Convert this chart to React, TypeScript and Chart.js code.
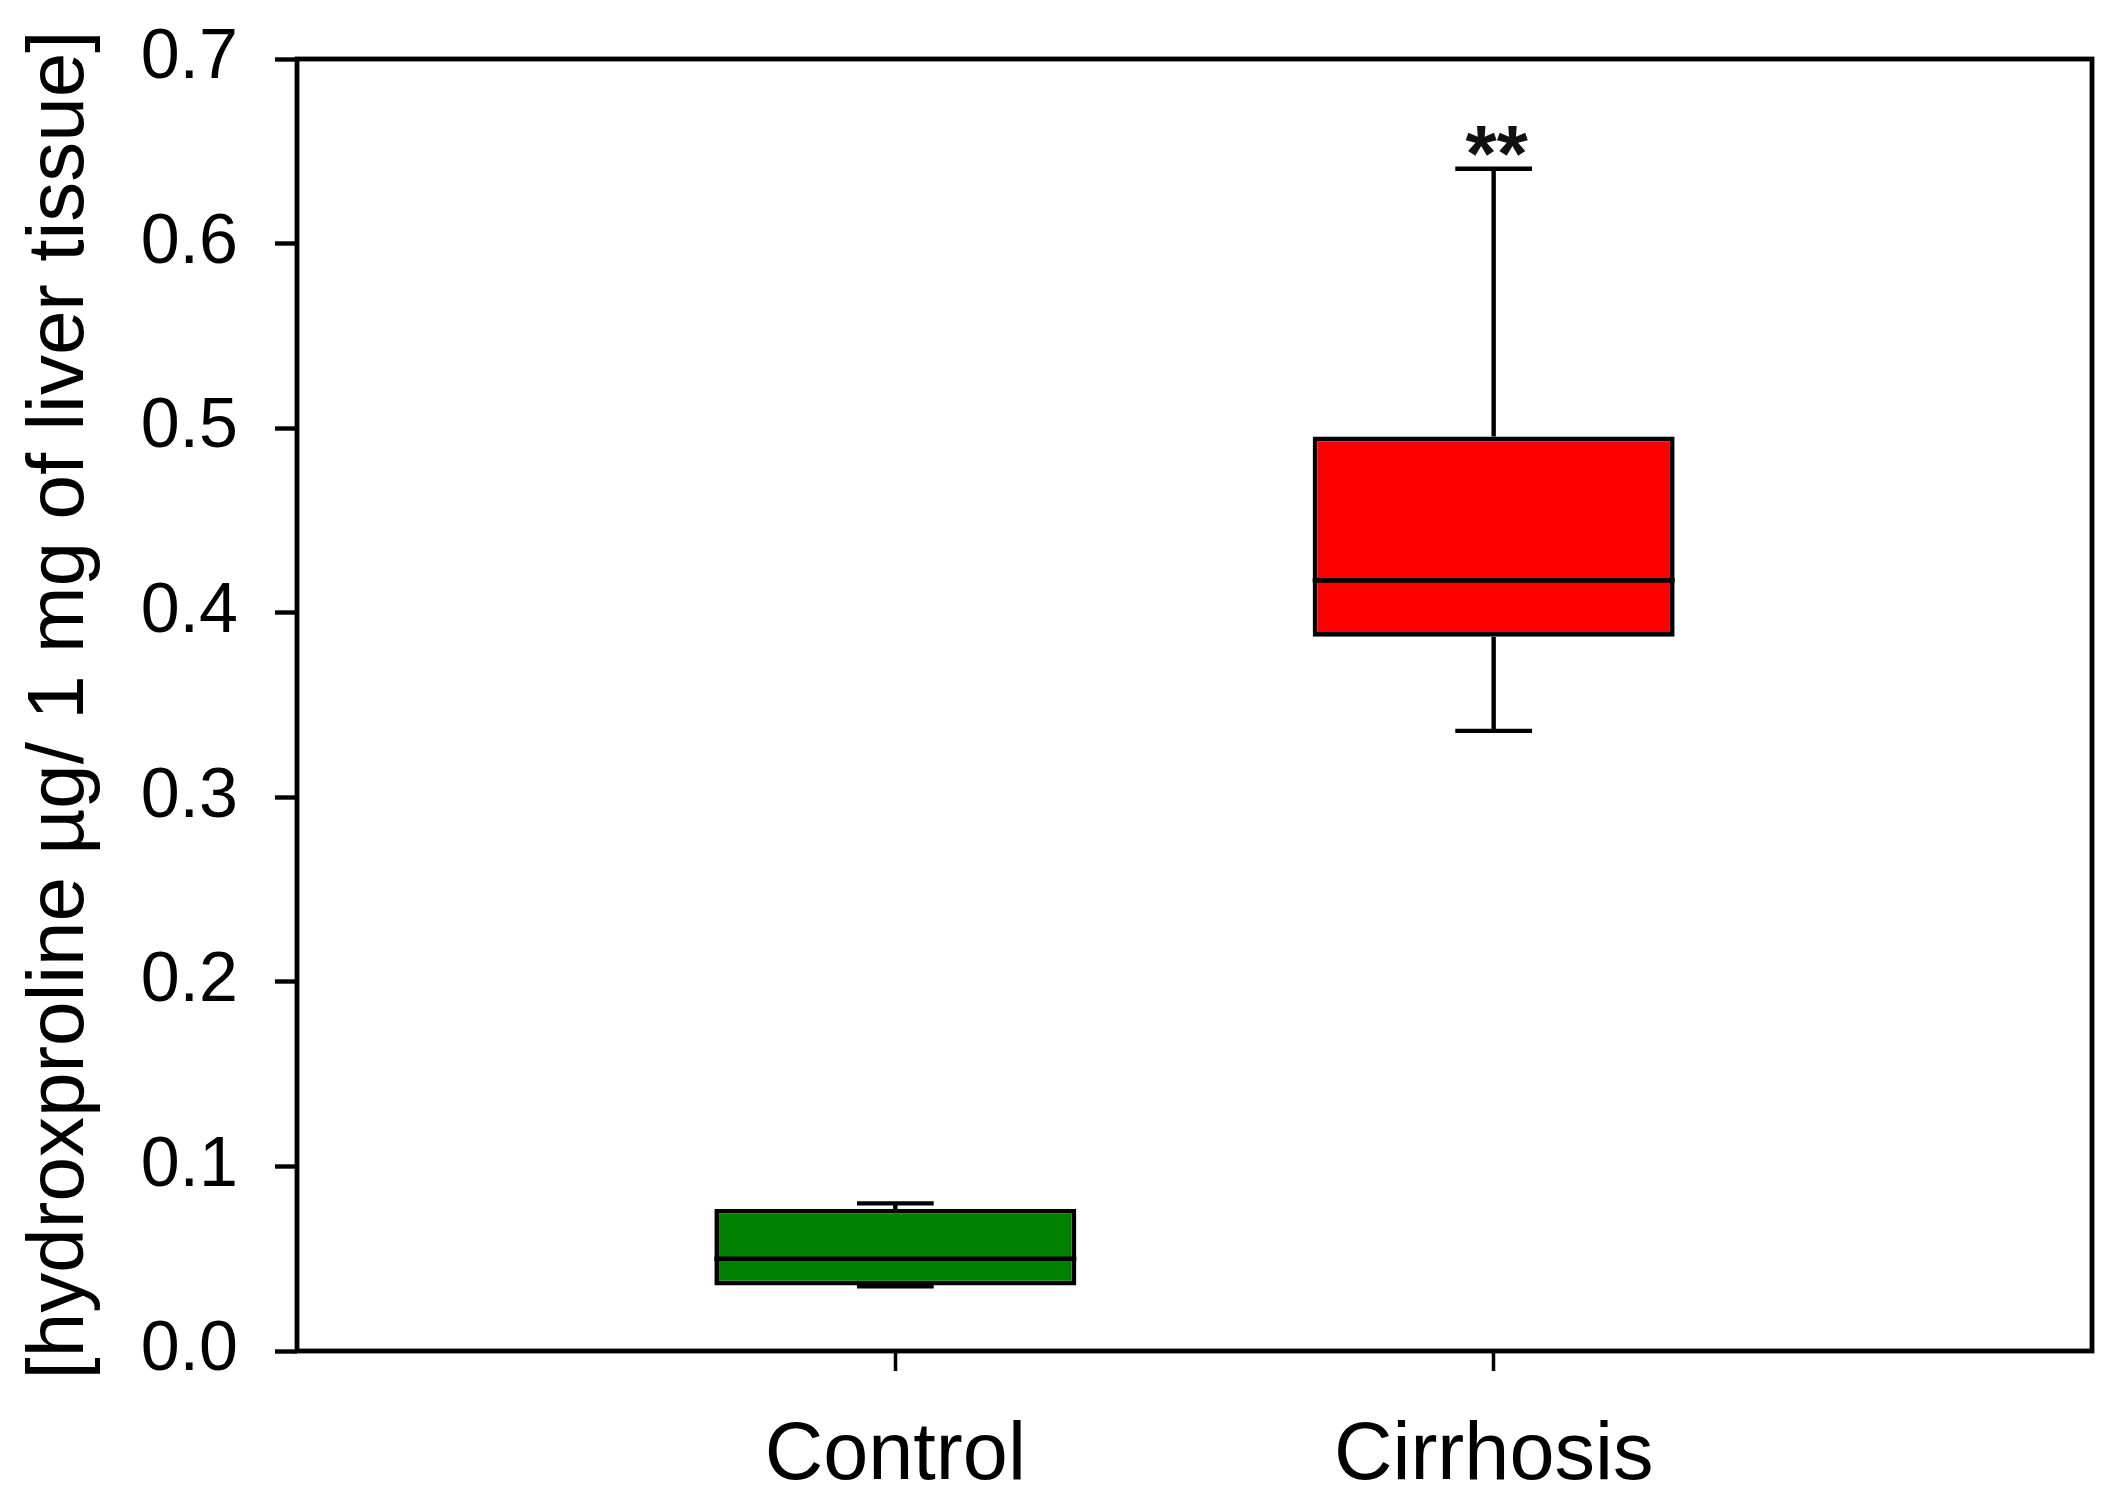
import React, { useEffect, useRef } from 'react';
import { Chart, registerables } from 'chart.js';

Chart.register(...registerables);

const categories = ['Control', 'Cirrhosis'];
const whiskerLow = [0.035, 0.336];
const quartile1 = [0.0355, 0.387];
const medians = [0.050, 0.4175];
const quartile3 = [0.077, 0.4955];
const whiskerHigh = [0.080, 0.6405];
const boxColors = ['#008000', '#ff0000'];
const significance = ['', '**'];
const yTickValues = [0, 0.1, 0.2, 0.3, 0.4, 0.5, 0.6, 0.7];
const yTitle = '[hydroxproline µg/ 1 mg of liver tissue]';

const FONT = "'Liberation Sans', Arial, sans-serif";

const boxPlotPlugin = {
  id: 'boxPlotExtras',
  afterDatasetsDraw(chart: any) {
    const ctx = chart.ctx;
    const meta = chart.getDatasetMeta(0);
    const yScale = chart.scales.y;
    ctx.save();
    ctx.strokeStyle = '#000';
    ctx.lineCap = 'butt';
    categories.forEach((_, i) => {
      const el = meta.data[i + 1];
      if (!el) return;
      const x = el.x;
      const w = el.width;
      const capHalf = (w * 0.212) / 2;
      const yMed = yScale.getPixelForValue(medians[i]);
      const yQ1 = yScale.getPixelForValue(quartile1[i]);
      const yQ3 = yScale.getPixelForValue(quartile3[i]);
      const yLo = yScale.getPixelForValue(whiskerLow[i]);
      const yHi = yScale.getPixelForValue(whiskerHigh[i]);
      ctx.lineWidth = 4.6;
      ctx.beginPath();
      ctx.moveTo(x - w / 2, yMed);
      ctx.lineTo(x + w / 2, yMed);
      ctx.stroke();
      ctx.lineWidth = 4.4;
      ctx.beginPath();
      ctx.moveTo(x, yQ3);
      ctx.lineTo(x, yHi);
      ctx.moveTo(x - capHalf, yHi);
      ctx.lineTo(x + capHalf, yHi);
      ctx.moveTo(x, yQ1);
      ctx.lineTo(x, yLo);
      ctx.moveTo(x - capHalf, yLo);
      ctx.lineTo(x + capHalf, yLo);
      ctx.stroke();
      if (significance[i]) {
        ctx.fillStyle = '#111';
        ctx.font = `bold 80px ${FONT}`;
        ctx.textAlign = 'center';
        ctx.textBaseline = 'alphabetic';
        ctx.fillText(significance[i], x + 3, yHi + 12);
      }
    });
    ctx.restore();
  },
  afterDraw(chart: any) {
    const { ctx, chartArea } = chart;
    ctx.save();
    ctx.strokeStyle = '#000';
    ctx.lineWidth = 4.8;
    ctx.strokeRect(chartArea.left, chartArea.top, chartArea.right - chartArea.left, chartArea.bottom - chartArea.top);
    ctx.restore();
  },
};

export default function App() {
  const canvasRef = useRef<HTMLCanvasElement | null>(null);

  useEffect(() => {
    if (!canvasRef.current) return;
    const labels = ['', ...categories, ''];
    const data: any[] = [null, ...categories.map((_, i) => [quartile1[i], quartile3[i]]), null];
    const chart = new Chart(canvasRef.current, {
      type: 'bar',
      data: {
        labels,
        datasets: [
          {
            data,
            backgroundColor: ['rgba(0,0,0,0)', ...boxColors, 'rgba(0,0,0,0)'],
            borderColor: '#000',
            borderWidth: 4.7,
            borderSkipped: false,
            categoryPercentage: 1,
            barPercentage: 0.605,
          },
        ],
      },
      options: {
        animation: false,
        responsive: false,
        devicePixelRatio: 1,
        layout: { padding: { top: 59, right: 17, left: 0, bottom: 0 } },
        plugins: {
          legend: { display: false },
          tooltip: { enabled: false },
        },
        scales: {
          x: {
            type: 'category',
            offset: false,
            border: { display: false },
            grid: {
              offset: false,
              display: true,
              drawOnChartArea: false,
              drawTicks: true,
              tickLength: 20,
              tickWidth: 3.5,
              tickColor: (c: any) => (c.index >= 1 && c.index <= categories.length ? '#000' : 'rgba(0,0,0,0)'),
            },
            ticks: {
              autoSkip: false,
              maxRotation: 0,
              padding: 37,
              color: '#000',
              font: { family: FONT, size: 81 },
            },
            afterFit: (scale: any) => {
              scale.height = 148;
              scale.paddingLeft = 0;
              scale.paddingRight = 0;
            },
          },
          y: {
            type: 'linear',
            min: 0,
            max: 0.7,
            border: { display: false },
            grid: {
              display: true,
              drawOnChartArea: false,
              drawTicks: true,
              tickLength: 22,
              tickWidth: 4.4,
              tickColor: '#000',
            },
            afterBuildTicks: (scale: any) => {
              scale.ticks = yTickValues.map((v) => ({ value: v }));
            },
            ticks: {
              padding: 37,
              color: '#000',
              font: { family: FONT, size: 70 },
              callback: (v: any) => Number(v).toFixed(1),
            },
            title: {
              display: true,
              text: yTitle,
              color: '#000',
              font: { family: FONT, size: 80 },
              padding: { top: 13, bottom: 0 },
            },
            afterFit: (scale: any) => {
              scale.width = 297;
              scale.paddingTop = 0;
              scale.paddingBottom = 0;
            },
          },
        },
      },
      plugins: [boxPlotPlugin],
    });
    return () => chart.destroy();
  }, []);

  return (
    <div style={{ position: 'fixed', left: 0, top: 0, width: 2109, height: 1499, background: '#fff' }}>
      <canvas ref={canvasRef} width={2109} height={1499} style={{ display: 'block' }} />
    </div>
  );
}
